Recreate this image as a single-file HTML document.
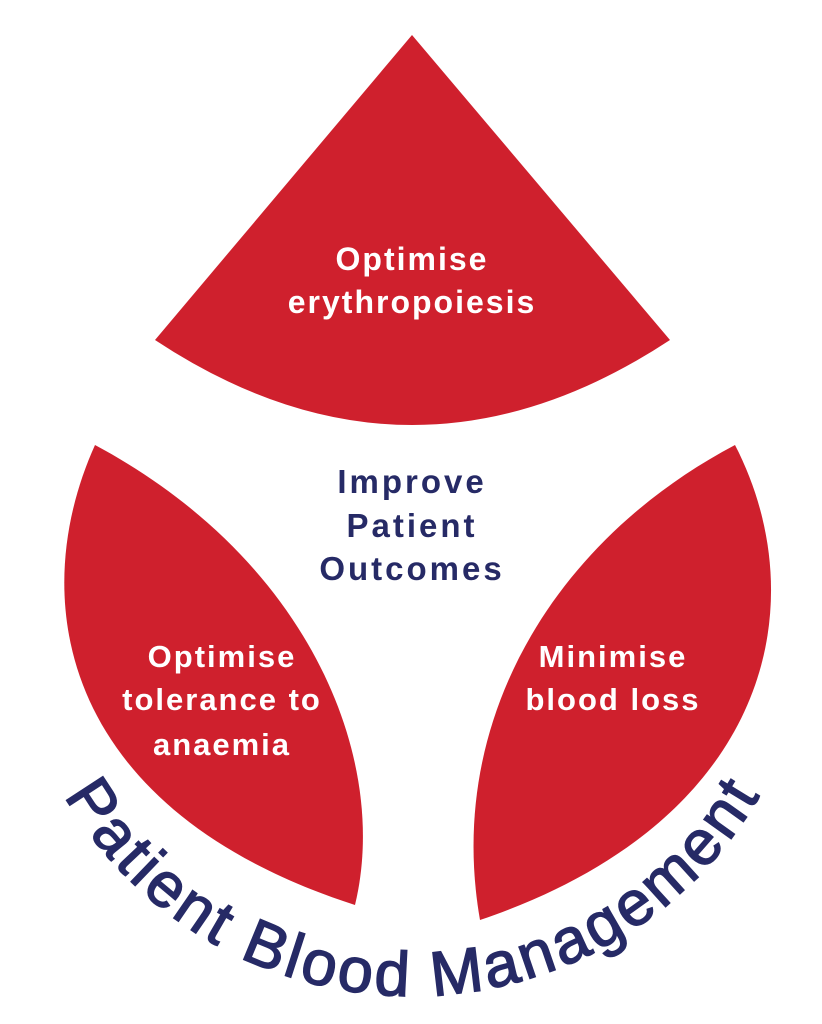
<!DOCTYPE html>
<html><head><meta charset="utf-8"><style>
html,body{margin:0;padding:0;background:#fff;}
svg{display:block;}
.w{font-family:"Liberation Sans",sans-serif;font-weight:bold;fill:#fff;font-size:31px;letter-spacing:2px;text-anchor:middle;}
.n{font-family:"Liberation Sans",sans-serif;font-weight:bold;fill:#262a66;font-size:33px;letter-spacing:3px;text-anchor:middle;}
</style></head><body>
<svg width="822" height="1024" viewBox="0 0 822 1024" xmlns="http://www.w3.org/2000/svg">
<path d="M412,35 L670,340 Q412,510 155,340 Z" fill="#cf202d"/>
<path d="M95,445 C25,600 60,810 355,905 C390,760 310,560 95,445 Z" fill="#cf202d"/>
<path d="M735,445 C555,540 445,720 480,920 C775,820 815,600 735,445 Z" fill="#cf202d"/>
<text class="w" x="412" y="270" style="font-size:32px">Optimise</text>
<text class="w" x="412" y="313" style="font-size:32px">erythropoiesis</text>
<text class="n" x="412" y="493">Improve</text>
<text class="n" x="412" y="537">Patient</text>
<text class="n" x="412" y="580">Outcomes</text>
<text class="w" x="222" y="667">Optimise</text>
<text class="w" x="222" y="710">tolerance to</text>
<text class="w" x="222" y="755">anaemia</text>
<text class="w" x="613" y="667">Minimise</text>
<text class="w" x="613" y="710">blood loss</text>
<defs><path id="arc" d="M10,594 A402,402 0 0 0 814,594"/></defs>
<text font-family="Liberation Sans, sans-serif" font-size="63" fill="#262a66" stroke="#262a66" stroke-width="1.5" text-anchor="middle"><textPath href="#arc" startOffset="50%" textLength="840" lengthAdjust="spacing">Patient Blood Management</textPath></text>
</svg>
</body></html>
